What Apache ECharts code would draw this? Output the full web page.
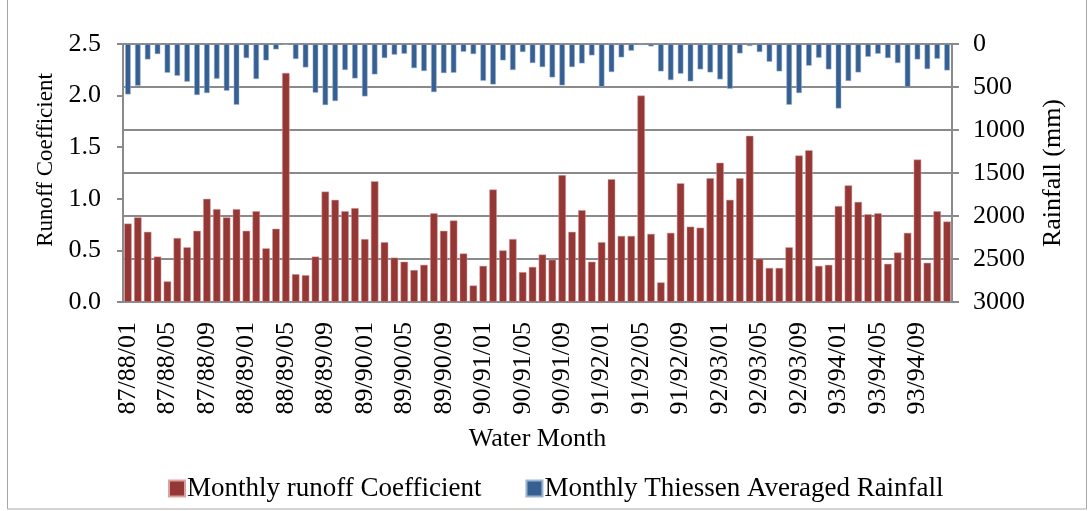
<!DOCTYPE html>
<html>
<head>
<meta charset="utf-8">
<script src="https://cdn.jsdelivr.net/npm/echarts@6/dist/echarts.min.js"></script>
<style>
  html, body { margin: 0; padding: 0; background: #fff; }
  #chart { width: 1089px; height: 511px; }
</style>
</head>
<body>
<div id="chart"></div>
<script>
// water years 87/88 .. 93/94, months 01..12
var waterYears = ['87/88', '88/89', '89/90', '90/91', '91/92', '92/93', '93/94']
var months = ['01', '02', '03', '04', '05', '06', '07', '08', '09', '10', '11', '12']
var categories = []
waterYears.forEach(function (y) {
    months.forEach(function (m) { categories.push(y + '/' + m) })
})

var runoffCoef = [
    0.76, 0.82, 0.68, 0.44, 0.20, 0.62, 0.53, 0.69, 1.00, 0.90, 0.82, 0.90,
    0.69, 0.88, 0.52, 0.71, 2.22, 0.27, 0.26, 0.44, 1.07, 0.99, 0.88, 0.91,
    0.61, 1.17, 0.58, 0.43, 0.39, 0.31, 0.36, 0.86, 0.69, 0.79, 0.47, 0.16,
    0.35, 1.09, 0.50, 0.61, 0.29, 0.34, 0.46, 0.41, 1.23, 0.68, 0.89, 0.39,
    0.58, 1.19, 0.64, 0.64, 2.00, 0.66, 0.19, 0.67, 1.15, 0.73, 0.72, 1.20,
    1.35, 0.99, 1.20, 1.61, 0.42, 0.33, 0.33, 0.53, 1.42, 1.47, 0.35, 0.36,
    0.93, 1.13, 0.97, 0.85, 0.86, 0.37, 0.48, 0.67, 1.38, 0.38, 0.88, 0.78
]

var rainfall = [
    586, 485, 179, 117, 334, 369, 438, 593, 570, 404, 543, 706,
    163, 407, 190, 62, 8, 174, 272, 566, 710, 663, 302, 400,
    609, 353, 163, 124, 113, 280, 314, 559, 338, 334, 90, 117,
    427, 470, 190, 302, 93, 221, 268, 388, 481, 268, 225, 132,
    497, 326, 155, 78, 12, 27, 318, 419, 345, 434, 295, 330,
    411, 520, 109, 23, 93, 206, 318, 706, 570, 252, 159, 295,
    749, 430, 330, 148, 113, 163, 221, 500, 179, 291, 171, 307
]

var FONT = '"Liberation Serif", "Times New Roman", serif'
var GRAY = '#8a8a8a'

var chart = echarts.init(document.getElementById('chart'))

chart.setOption({
    animation: false,
    backgroundColor: '#fff',
    textStyle: { fontFamily: FONT, color: '#000' },
    graphic: [{
        type: 'rect',
        shape: { x: 7.5, y: -2, width: 1079, height: 511 },
        style: { fill: 'none', stroke: '#a6a6a6', lineWidth: 1 },
        silent: true
    }],
    grid: { left: 123, right: 137, top: 44, bottom: 209 },
    legend: {
        left: 163,
        top: 470,
        itemWidth: 16,
        itemHeight: 16,
        itemGap: 44,
        textStyle: { fontFamily: FONT, fontSize: 27, color: '#000', padding: [0, 0, 0, -3] },
        data: [
            { name: 'Monthly runoff Coefficient', icon: 'rect' },
            { name: 'Monthly Thiessen Averaged Rainfall', icon: 'rect' }
        ]
    },
    xAxis: [{
        type: 'category',
        data: categories,
        name: 'Water Month',
        nameLocation: 'middle',
        nameGap: 124,
        nameTextStyle: { fontFamily: FONT, fontSize: 26, color: '#000' },
        axisLine: { lineStyle: { color: GRAY, width: 2 } },
        axisTick: { show: false },
        axisLabel: {
            interval: 3,
            rotate: 90,
            margin: 20,
            fontFamily: FONT,
            fontSize: 26,
            color: '#000'
        }
    }, {
        type: 'category',
        data: categories,
        show: false
    }],
    yAxis: [{
        type: 'value',
        min: 0,
        max: 2.5,
        interval: 0.5,
        name: 'Runoff Coefficient',
        nameLocation: 'middle',
        nameGap: 66,
        nameRotate: 90,
        nameTextStyle: { fontFamily: FONT, fontSize: 23, color: '#000', padding: [0, 0, 0, 26] },
        axisLine: { show: true, lineStyle: { color: GRAY, width: 2 } },
        axisTick: { show: true, length: 6, lineStyle: { color: GRAY, width: 2 } },
        splitLine: { show: false },
        axisLabel: {
            margin: 22,
            fontFamily: FONT,
            fontSize: 26,
            color: '#000',
            formatter: function (v) { return v.toFixed(1) }
        }
    }, {
        type: 'value',
        min: 0,
        max: 3000,
        interval: 500,
        inverse: true,
        position: 'right',
        name: 'Rainfall (mm)',
        nameLocation: 'middle',
        nameGap: 88,
        nameRotate: 90,
        nameTextStyle: { fontFamily: FONT, fontSize: 26, color: '#000' },
        axisLine: { show: true, lineStyle: { color: GRAY, width: 2 } },
        axisTick: { show: true, length: 7, lineStyle: { color: GRAY, width: 2 } },
        splitLine: { show: true, lineStyle: { color: GRAY, width: 2 } },
        axisLabel: {
            margin: 21,
            fontFamily: FONT,
            fontSize: 26,
            color: '#000',
            formatter: function (v) { return String(v) }
        }
    }],
    series: [{
        name: 'Monthly runoff Coefficient',
        type: 'bar',
        xAxisIndex: 0,
        yAxisIndex: 0,
        barWidth: 7.5,
        data: runoffCoef,
        itemStyle: { color: '#953735', borderColor: '#d9a3a2', borderWidth: 0.5 },
        z: 3
    }, {
        name: 'Monthly Thiessen Averaged Rainfall',
        type: 'bar',
        xAxisIndex: 1,
        yAxisIndex: 1,
        barWidth: 5.5,
        data: rainfall,
        itemStyle: { color: '#376092', borderColor: '#9bb3d1', borderWidth: 0.5 },
        z: 3
    }]
})
</script>
</body>
</html>
